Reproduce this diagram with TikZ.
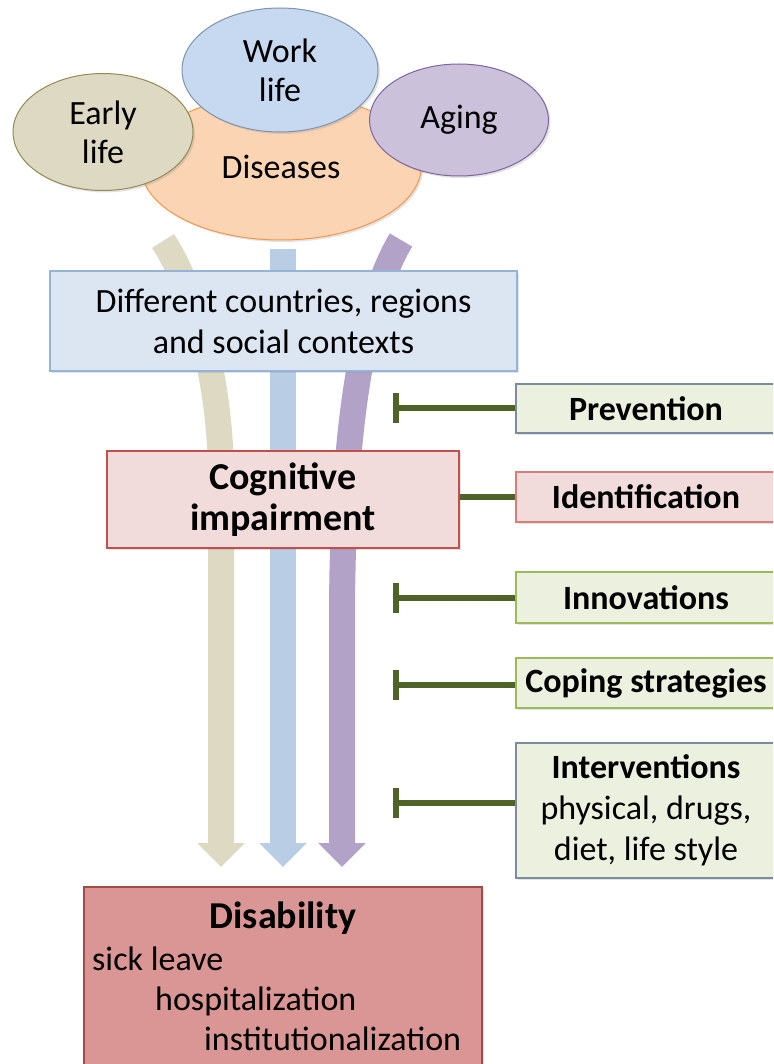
\documentclass[tikz,border=0pt]{standalone}
\usepackage{fontspec}
\setmainfont{Carlito}
\usetikzlibrary{shapes.geometric,arrows.meta,shadows}
\definecolor{disfill}{HTML}{FBD4B4}
\definecolor{disdraw}{HTML}{F79646}
\definecolor{earlyfill}{HTML}{DDD9C3}
\definecolor{earlydraw}{HTML}{948A54}
\definecolor{workfill}{HTML}{C6D9F1}
\definecolor{workdraw}{HTML}{7F93AD}
\definecolor{agefill}{HTML}{CCC1DA}
\definecolor{agedraw}{HTML}{8064A2}
\definecolor{tanc}{HTML}{DDD9C3}
\definecolor{bluec}{HTML}{B9CDE5}
\definecolor{purc}{HTML}{B3A2C7}
\definecolor{ctxfill}{HTML}{DCE6F2}
\definecolor{ctxdraw}{HTML}{95B3D7}
\definecolor{cogfill}{HTML}{F2DCDB}
\definecolor{cogdraw}{HTML}{C0504D}
\definecolor{identdraw}{HTML}{D77E7B}
\definecolor{greenfill}{HTML}{EBF1DE}
\definecolor{grayborder}{HTML}{7A8CA0}
\definecolor{greenborder}{HTML}{9BBB59}
\definecolor{inhibgreen}{HTML}{4F6228}
\definecolor{disabfill}{HTML}{D99694}
\definecolor{disabdraw}{HTML}{A04C48}
\newcommand\regtxt{\fontsize{34}{41}\selectfont}
\newcommand\hdtxt{\fontsize{38}{41}\selectfont\bfseries}
\newcommand\ellt{\fontsize{34}{39}\selectfont}
\begin{document}
\begin{tikzpicture}[x=1pt,y=-1pt,
  shadowed/.style={drop shadow={opacity=0.22,shadow xshift=2pt,shadow yshift=-2pt}},
  ell/.style={ellipse,draw,line width=1pt,inner sep=0pt,align=center,font=\ellt,shadowed},
  box/.style={rectangle,draw,line width=1.5pt,inner sep=0pt,align=center,shadowed},
  gbox/.style={box,fill=greenfill,minimum width=260pt,font=\regtxt\bfseries},
  flow/.style={line width=26pt,-{Triangle[width=46pt,length=24pt]}},
  inhib/.style={draw=inhibgreen,line width=6pt,-{Bar[width=30pt]}},
]
\useasboundingbox (0,0) rectangle (773,1064);
\clip (0,0) rectangle (773,1064);

% ellipses
\node[ell,fill=disfill,draw=disdraw,minimum width=280pt,minimum height=146pt] (dis) at (281,167) {Diseases};
\node[ell,fill=earlyfill,draw=earlydraw,minimum width=180pt,minimum height=117pt] (early) at (103,132) {Early\\life};
\node[ell,fill=workfill,draw=workdraw,minimum width=196pt,minimum height=124pt] (work) at (280,70) {Work\\life};
\node[ell,fill=agefill,draw=agedraw,minimum width=179pt,minimum height=112pt] (aging) at (459,120) {Aging};

% flow arrows
\coordinate (tanS) at (163,241);
\coordinate (tanE) at (221,867);
\coordinate (bluS) at (283,249);
\coordinate (bluE) at (283,867);
\coordinate (purS) at (401,240);
\coordinate (purE) at (342,867);
\draw[flow,tanc] (tanS) .. controls (195,290) and (221,380) .. (221,480) -- (tanE);
\draw[flow,bluec] (bluS) -- (bluE);
\draw[flow,purc] (purS) .. controls (365,300) and (342,420) .. (342,620) -- (purE);

% main boxes
\node[box,fill=ctxfill,draw=ctxdraw,minimum width=467pt,minimum height=100pt,font=\regtxt] (ctx) at (283.5,321) {Different countries, regions\\and social contexts};
\node[box,fill=cogfill,draw=cogdraw,minimum width=352pt,minimum height=97pt,font=\hdtxt] (cog) at (283,499.5) {Cognitive\\impairment};

% right boxes
\node[gbox,draw=grayborder,minimum height=49pt] (prev) at (646,408.5) {Prevention};
\node[gbox,fill=cogfill,draw=identdraw,minimum height=50pt] (ident) at (646,497) {Identification};
\node[gbox,draw=greenborder,minimum height=51pt] (innov) at (646,597.5) {Innovations};
\node[gbox,draw=greenborder,minimum height=50pt] (coping) at (646,683) {Coping strategies};
\node[gbox,draw=grayborder,minimum height=135pt] (interv) at (646,810.5) {Interventions\\\mdseries physical, drugs,\\\mdseries diet, life style};

% inhibitor connectors
\coordinate (b1) at (393,408);
\coordinate (b2) at (393,598);
\coordinate (b3) at (393,685);
\coordinate (b4) at (393,803);
\draw[inhib] (b1 -| prev.west) -- (b1);
\draw[inhib] (b2 -| innov.west) -- (b2);
\draw[inhib] (b3 -| coping.west) -- (b3);
\draw[inhib] (b4 -| interv.west) -- (b4);
\draw[draw=inhibgreen,line width=6pt] (cog.east |- ident.west) -- (ident.west);

% disability
\node[box,fill=disabfill,draw=disabdraw,minimum width=398pt,minimum height=220pt] (disab) at (283,997) {};
\node[font=\hdtxt,anchor=base] (disT) at (283,928) {Disability};
\node[font=\regtxt,anchor=base west,inner sep=0pt] (sick) at (92,970) {sick leave};
\node[font=\regtxt,anchor=base west,inner sep=0pt] (hosp) at (155,1010) {hospitalization};
\node[font=\regtxt,anchor=base west,inner sep=0pt] (inst) at (204,1050) {institutionalization};
\end{tikzpicture}
\end{document}
